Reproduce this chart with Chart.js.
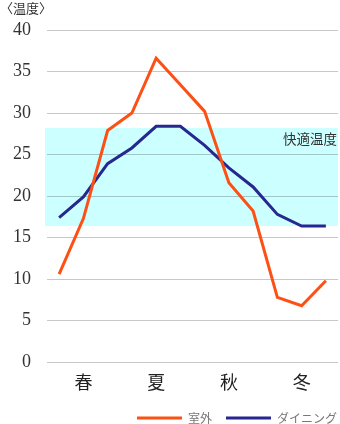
<!DOCTYPE html>
<html>
<head>
<meta charset="utf-8">
<script src="https://cdn.jsdelivr.net/npm/chart.js@4"></script>
<style>
html,body{margin:0;padding:0;background:#fff;}
#wrap{width:340px;height:424px;}
</style>
</head>
<body>
<div id="wrap"><canvas id="c" width="340" height="424"></canvas></div>
<script>
const months = ['3月','4月','5月','6月','7月','8月','9月','10月','11月','12月','1月','2月'];
const seasonLabels = ['', '春', '', '', '夏', '', '', '秋', '', '', '冬', ''];
const outdoor = [10.6, 17.3, 27.9, 30.0, 36.6, 33.4, 30.2, 21.6, 18.2, 7.8, 6.8, 9.8];
const dining = [17.4, 19.9, 23.9, 25.8, 28.4, 28.4, 26.1, 23.4, 21.1, 17.8, 16.4, 16.4];
const comfortMin = 16.4;
const comfortMax = 28.2;
const comfortLabel = '快適温度';
const yTitle = '〈温度〉';

const CJK = '"Noto Sans CJK JP", sans-serif';

const bandPlugin = {
  id: 'band',
  afterLayout(chart) {
    // push legend to the right edge (Chart.js keeps a trailing padding gap)
    if (chart.legend) { chart.legend.left += 13; chart.legend.right += 13; }
  },
  beforeDraw(chart) {
    const {ctx, chartArea, scales} = chart;
    const yTop = scales.y.getPixelForValue(comfortMax);
    const yBot = scales.y.getPixelForValue(comfortMin);
    ctx.save();
    ctx.fillStyle = '#ccffff';
    ctx.fillRect(chartArea.left - 2, yTop, chartArea.right - chartArea.left + 2, yBot - yTop);
    ctx.fillStyle = '#333';
    ctx.font = '13.5px ' + CJK;
    ctx.textAlign = 'right';
    ctx.textBaseline = 'middle';
    ctx.fillText(comfortLabel, chartArea.right - 1, yTop + 11);
    ctx.restore();
  }
};

new Chart(document.getElementById('c'), {
  type: 'line',
  data: {
    labels: months,
    datasets: [
      {label: '室外', data: outdoor, borderColor: '#fc5015', backgroundColor: '#fc5015', borderWidth: 3, pointRadius: 0, tension: 0},
      {label: 'ダイニング', data: dining, borderColor: '#272790', backgroundColor: '#272790', borderWidth: 3, pointRadius: 0, tension: 0}
    ]
  },
  options: {
    responsive: false,
    animation: false,
    layout: {padding: {left: 0, right: 2, top: 0, bottom: -10}},
    plugins: {
      title: {display: true, text: yTitle, align: 'start', color: '#333', font: {family: CJK, size: 13, weight: 'normal'}, padding: {top: 0, bottom: 14.4}},
      legend: {
        position: 'bottom', align: 'end',
        labels: {usePointStyle: true, pointStyle: 'line', pointStyleWidth: 45, color: '#777', font: {family: CJK, size: 12}, padding: 14}
      },
      tooltip: {enabled: false}
    },
    scales: {
      x: {
        offset: true,
        grid: {display: false, drawTicks: false},
        border: {display: false},
        ticks: {autoSkip: false, maxRotation: 0, color: '#222', font: {family: CJK, size: 18}, padding: 9.4,
          callback: (v, i) => seasonLabels[i]},
        afterFit: (s) => { s.height = 35.8; }
      },
      y: {
        min: 0, max: 40,
        grid: {color: 'rgba(0,0,0,0.22)', drawTicks: false, lineWidth: 1},
        border: {display: false},
        ticks: {stepSize: 5, color: '#333', font: {family: '"Liberation Serif", serif', size: 18}, padding: 16},
        afterFit: (s) => { s.width = 47; }
      }
    }
  },
  plugins: [bandPlugin]
});
</script>
</body>
</html>
